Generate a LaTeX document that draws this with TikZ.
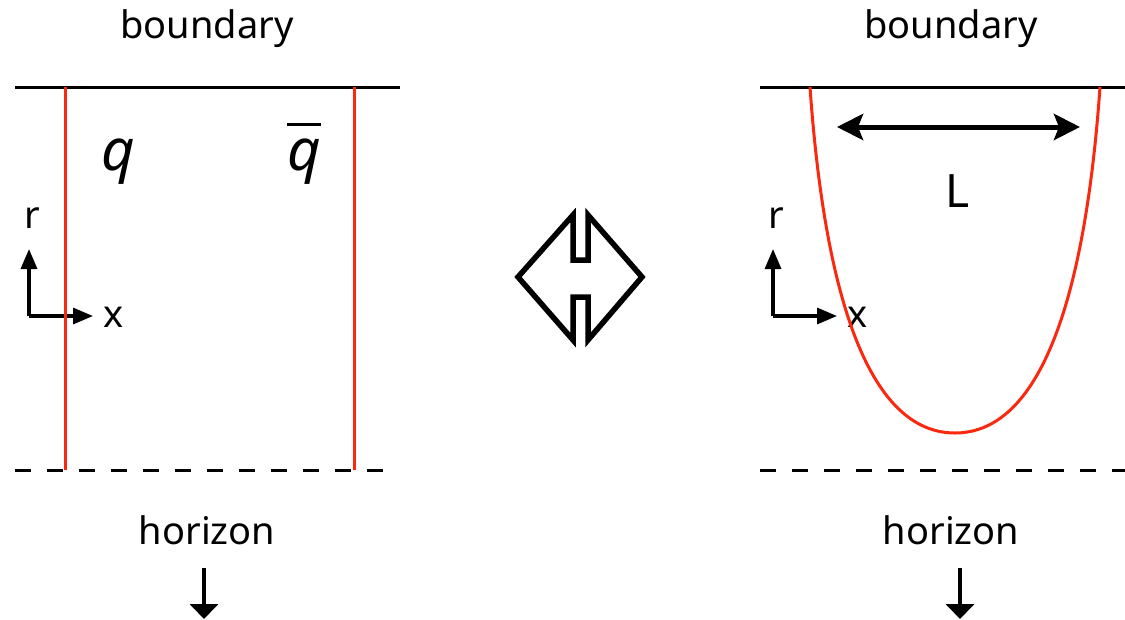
\documentclass[tikz,border=0pt]{standalone}
\usepackage{fontspec}
\setmainfont{Noto Sans}
\usetikzlibrary{arrows.meta}
\definecolor{wline}{RGB}{250,40,15}

\begin{document}
\begin{tikzpicture}[x=1pt,y=-1pt,
    lbl/.style={font=\fontsize{38}{40}\selectfont,inner sep=0pt,anchor=base},
    quark/.style={font=\fontsize{58}{62}\selectfont\itshape,inner sep=0pt,anchor=base},
    axis/.style={line width=3.2pt,-{Triangle[length=20pt,width=16pt]}},
    wilson/.style={draw=wline,line width=3pt},
    horizonline/.style={line width=3pt,dash pattern=on 16pt off 16pt},
    fall/.style={line width=4.5pt,-{Triangle[length=15pt,width=28pt]}}]
  \useasboundingbox (0,0) rectangle (1125,619);
  % labels and axes, same in both panels
  \foreach \p/\dx/\dd in {l/0/204, r/744/960} {
    \node[lbl] (bnd\p) at (207+\dx,38) {boundary};
    \node[lbl] (hor\p) at (207+\dx,544) {horizon};
    \node[lbl] (r\p) at (32+\dx,228) {r};
    \node[lbl] (x\p) at (114+\dx,327) {x};
    \coordinate (o\p) at (29+\dx,316);
    \coordinate (rt\p) at (29+\dx,249);
    \coordinate (xt\p) at (93+\dx,316);
    \coordinate (fa\p) at (\dd,568);
    \coordinate (fb\p) at (\dd,619);
    \draw[axis] (o\p) -- (rt\p);
    \draw[axis] (o\p) -- (xt\p);
    \draw[fall] (fa\p) -- (fb\p);
  }
  % left: straight strings
  \draw[line width=3pt] (15,87) -- (400,87);
  \draw[horizonline] (15,470) -- (384,470);
  \draw[wilson] (65,87) -- (65,470);
  \draw[wilson] (354,87) -- (354,470);
  \node[quark] (q) at (118,170) {q};
  \node[quark] (qbar) at (304,170) {q};
  \draw[line width=3pt] ([yshift=14pt]qbar.north west) -- ([yshift=14pt]qbar.north east);
  % middle: duality
  \draw[line width=5.5pt] (518,277) -- (573,215) -- (573,260) -- (588,260) -- (588,215)
    -- (642,277) -- (588,340) -- (588,297) -- (573,297) -- (573,340) -- cycle;
  % right: hanging string
  \draw[line width=3pt] (760,87) -- (1125,87);
  \draw[horizonline] (760,470) -- (1125,470);
  \draw[wilson] (810,87) .. controls (825,300) and (870,433) .. (955,433)
    .. controls (1040,433) and (1085,300) .. (1100,87);
  \coordinate (la) at (837,127);
  \coordinate (lb) at (1080,127);
  \draw[line width=5pt,{Stealth[length=26pt,width=26pt,inset=5pt]}-{Stealth[length=26pt,width=26pt,inset=5pt]}] (la) -- (lb);
  \node[lbl,font=\fontsize{46}{50}\selectfont] (len) at (958,207) {L};
\end{tikzpicture}
\end{document}
